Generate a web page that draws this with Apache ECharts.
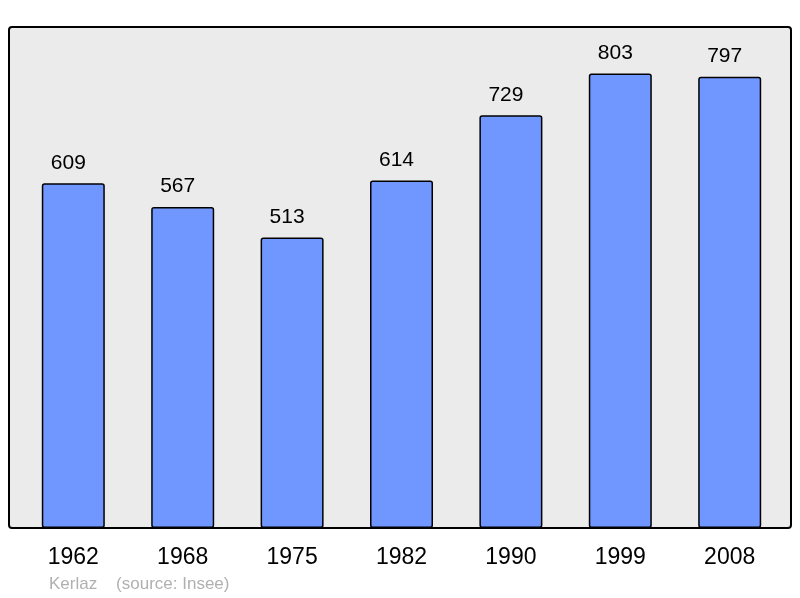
<!DOCTYPE html>
<html>
<head>
<meta charset="utf-8">
<script src="https://cdn.jsdelivr.net/npm/echarts@6/dist/echarts.min.js"></script>
<style>
  html, body { margin: 0; padding: 0; background: #fff; }
  #main { width: 800px; height: 598px; }
</style>
</head>
<body>
<div id="main"></div>
<script>
var years = ['1962', '1968', '1975', '1982', '1990', '1999', '2008'];
var population = [609, 567, 513, 614, 729, 803, 797];

var chartDom = document.getElementById('main');
var myChart = echarts.init(chartDom);
var option;

option = {
    animation: false,
    textStyle: { fontFamily: 'Liberation Sans' },
    grid: {
        left: 18.6,
        right: 15.6,
        top: 27,
        bottom: 70
    },
    graphic: [
        {
            type: 'rect',
            z: -10,
            shape: { x: 9, y: 27, width: 782, height: 501, r: 3 },
            style: { fill: '#ebebeb', stroke: '#000', lineWidth: 2 }
        },
        {
            type: 'text',
            left: 49,
            top: 576,
            style: {
                text: 'Kerlaz    (source: Insee)',
                fill: '#b0b0b0',
                font: '17px "Liberation Sans"'
            }
        }
    ],
    xAxis: {
        type: 'category',
        data: years,
        axisLine: { show: false },
        axisTick: { show: false },
        axisLabel: { color: '#000', fontSize: 23, margin: 18 }
    },
    yAxis: {
        type: 'value',
        min: 0,
        max: 885,
        show: false,
        splitLine: { show: false }
    },
    series: [{
        type: 'bar',
        data: population,
        barWidth: 63,
        itemStyle: {
            color: '#7096ff',
            borderColor: '#000',
            borderWidth: 1.5,
            borderRadius: 2
        },
        label: {
            show: true,
            position: 'top',
            distance: 10,
            offset: [-5, 0],
            color: '#000',
            fontSize: 21
        }
    }]
};

option && myChart.setOption(option);
</script>
</body>
</html>
